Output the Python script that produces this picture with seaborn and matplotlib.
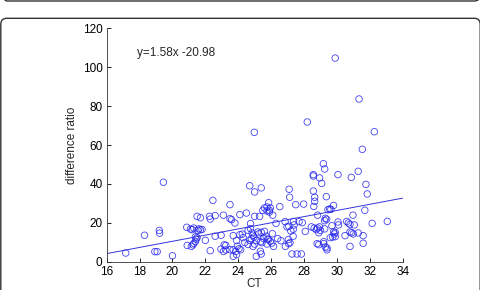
import numpy as np
import pandas as pd
import matplotlib
matplotlib.use("Agg")
import matplotlib.pyplot as plt
from matplotlib.patches import FancyBboxPatch
import seaborn as sns

# ----- data -----
ct = [
    17.16, 18.3, 18.93, 19.07, 19.2, 19.22, 19.45, 20.0, 20.87, 20.9,
    21.1, 21.2, 21.3, 21.15, 21.25, 21.3, 21.4, 21.45, 21.5, 21.4,
    21.5, 21.6, 21.7, 21.8, 21.55, 21.7, 22.0, 22.25, 22.3, 22.6,
    22.46, 22.3, 22.6, 22.96, 22.95, 23.1, 23.25, 23.15, 23.25, 23.1,
    23.5, 23.5, 23.6, 23.7, 23.8, 23.5, 23.7, 23.85, 23.7, 23.9,
    23.95, 24.05, 24.15, 24.1, 24.25, 24.1, 24.5, 24.7, 25.0, 25.4,
    24.6, 24.75, 24.85, 24.9, 24.8, 24.7, 24.95, 25.2, 24.75, 25.0,
    25.1, 25.4, 25.3, 25.35, 24.9, 25.0, 25.25, 25.5, 25.6, 25.75,
    25.85, 25.9, 25.95, 25.75, 25.9, 26.1, 26.3, 26.53, 27.1, 27.13,
    27.5, 27.98, 27.36, 27.4, 27.9, 28.57, 28.65, 28.65, 28.6, 28.57,
    28.57, 28.95, 29.08, 29.18, 29.26, 30.07, 30.88, 31.3, 31.77, 31.85,
    29.36, 28.83, 29.38, 29.3, 29.26, 29.46, 29.56, 29.64, 29.8, 29.7,
    30.07, 30.6, 30.7, 30.8, 31.06, 30.98, 31.7, 32.15, 33.07, 25.4,
    25.6, 25.7, 25.8, 26.08, 26.97, 27.08, 27.34, 28.08, 28.45, 28.62,
    28.75, 28.83, 28.95, 29.0, 28.9, 29.26, 29.6, 29.75, 29.85, 29.9,
    30.5, 30.8, 30.9, 31.0, 31.3, 31.6, 31.6, 30.8, 29.2, 29.4,
    29.3, 28.8, 28.9, 26.6, 26.87, 27.07, 27.05, 26.15, 25.95, 26.05,
    25.75, 25.45, 25.35, 27.27, 27.58, 27.84, 24.98, 28.2, 29.9, 31.35,
    32.28, 31.55, 25.85, 24.4, 24.6, 25.1, 24.3, 23.9, 25.55, 26.4,
    27.15, 29.9, 29.2, 27.35, 27.2, 30.1, 29.8, 26.85, 27.7, 29.4,
]
diff_ratio = [
    4.6, 13.7, 5.3, 5.3, 16.2, 14.8, 40.9, 3.2, 17.8, 8.5,
    16.9, 16.6, 17.4, 8.0, 8.8, 9.6, 10.5, 11.8, 12.5, 12.9,
    23.4, 17.0, 16.5, 16.7, 16.2, 22.7, 11.1, 23.4, 22.0, 23.8,
    31.6, 5.8, 13.2, 13.7, 6.6, 5.4, 6.2, 8.8, 8.5, 24.0,
    29.4, 22.2, 21.7, 13.5, 20.0, 6.3, 6.3, 5.4, 2.9, 3.8,
    8.1, 6.8, 6.3, 14.0, 14.3, 24.3, 25.1, 39.1, 35.9, 38.0,
    16.2, 17.1, 14.9, 13.7, 12.0, 11.1, 12.8, 15.4, 19.7, 23.4,
    2.9, 4.1, 23.4, 5.5, 8.0, 9.2, 14.4, 26.5, 27.7, 28.2,
    30.4, 26.5, 27.7, 26.2, 25.6, 24.0, 19.8, 28.4, 37.3, 33.2,
    29.4, 29.7, 20.8, 19.0, 20.2, 36.4, 33.2, 31.1, 28.5, 44.8,
    44.1, 43.1, 40.3, 50.4, 47.7, 44.8, 43.4, 46.5, 39.8, 34.9,
    33.5, 24.0, 21.9, 22.4, 21.2, 26.8, 27.2, 27.0, 29.0, 18.6,
    20.5, 20.8, 20.0, 19.3, 19.0, 24.0, 26.5, 19.8, 20.8, 15.2,
    15.7, 13.2, 11.8, 14.5, 18.0, 18.3, 13.2, 15.7, 18.0, 17.4,
    16.6, 17.4, 18.0, 16.2, 15.0, 17.0, 12.5, 12.8, 14.4, 15.2,
    13.5, 15.4, 15.0, 14.4, 14.9, 13.5, 9.6, 8.0, 9.4, 7.2,
    7.7, 9.4, 8.9, 10.9, 8.0, 9.4, 11.5, 8.0, 10.6, 9.7,
    9.2, 9.9, 10.4, 4.1, 4.1, 4.1, 66.5, 71.8, 104.6, 83.6,
    66.8, 57.8, 11.5, 10.0, 9.0, 11.0, 12.5, 11.0, 12.0, 12.0,
    9.9, 13.0, 10.4, 16.8, 15.9, 19.0, 15.5, 20.7, 20.7, 6.2,
]

fit_slope = 1.58
fit_intercept = -20.98
x_range = [16, 34]
x_ticks = list(range(16, 35, 2))
y_ticks = list(range(0, 121, 20))

df = pd.DataFrame({"CT": ct, "difference ratio": diff_ratio})
fit = pd.DataFrame({"x": x_range,
                    "y": [fit_slope * v + fit_intercept for v in x_range]})

sns.set_style("ticks")
plt.rcParams["font.family"] = ["Liberation Sans", "DejaVu Sans"]

fig = plt.figure(figsize=(4.81, 2.90), dpi=100)
ax = fig.add_axes([0.2218, 0.0966, 0.6152, 0.8068])

sns.scatterplot(data=df, x="CT", y="difference ratio", ax=ax, marker="o",
                s=22, facecolor="none", edgecolor="#2222ee",
                linewidth=0.6, alpha=0.85, legend=False)
sns.lineplot(data=fit, x="x", y="y", ax=ax, color="#3333dd", linewidth=0.7)

ax.set_xlim(16, 34)
ax.set_ylim(0, 120)
ax.set_xticks(x_ticks)
ax.set_yticks(y_ticks)
ax.tick_params(direction="in", length=3, width=0.6, labelsize=8.5,
               colors="black")
ax.tick_params(axis="y", pad=3)
ax.tick_params(axis="x", pad=3)
for side in ("top", "right"):
    ax.spines[side].set_visible(False)
for side in ("left", "bottom"):
    ax.spines[side].set_linewidth(0.6)
    ax.spines[side].set_color("#333333")

ax.set_xlabel("CT", fontsize=8.5, labelpad=0)
ax.set_ylabel("difference ratio", fontsize=8.5, labelpad=3)
ax.text(17.82, 107.2, f"y={fit_slope}x {fit_intercept}", fontsize=8.5,
        ha="left", va="center")

# page frames around the figure
for y0, h in [(2.89, 0.4), (-0.4, 3.117)]:
    box = FancyBboxPatch((0.008, y0), 4.794, h,
                         boxstyle="round,pad=0,rounding_size=0.06",
                         transform=fig.dpi_scale_trans, fill=False,
                         edgecolor="#333333", linewidth=1.0, clip_on=False)
    fig.add_artist(box)

fig.savefig("out.png", dpi=100)
